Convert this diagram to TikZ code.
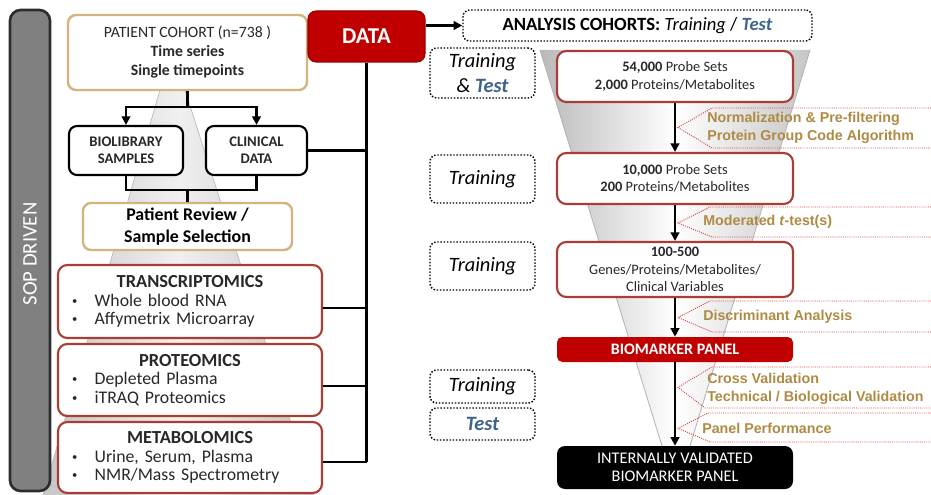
\documentclass[tikz,border=0pt]{standalone}
\usepackage{fontspec}
\setmainfont{Carlito}
\newfontfamily\arialf{Liberation Sans}
\usetikzlibrary{arrows.meta,calc}
\definecolor{tanc}{RGB}{212,180,126}
\definecolor{redb}{RGB}{170,62,52}
\definecolor{datared}{RGB}{192,0,0}
\definecolor{goldc}{RGB}{175,138,68}
\definecolor{testblue}{RGB}{62,100,138}
\definecolor{calred}{RGB}{220,60,60}
\definecolor{txt}{RGB}{40,40,40}
\definecolor{sopgray}{RGB}{128,128,128}
\newcommand{\bul}{\makebox[17pt][l]{\raisebox{1.5pt}{\fontsize{8}{8}\selectfont\textbullet}}}
\tikzset{
 conn/.style={line width=1.9pt, draw=black},
 arr/.style={conn, -{Triangle[length=6.5pt,width=6.5pt]}},
 tanbox/.style={draw=tanc, line width=1.8pt, rounded corners=6pt, fill=white, align=center, text=txt, inner sep=0pt},
 blkbox/.style={draw=black, line width=1.6pt, rounded corners=6pt, fill=white, align=center, text=txt, inner sep=0pt},
 redbox/.style={draw=redb, line width=1.6pt, rounded corners=7pt, fill=white, text=txt, inner sep=0pt},
 dotbox/.style={draw=black, line width=1.1pt, dash pattern=on 1.1pt off 1.3pt, rounded corners=5pt, align=center, inner sep=0pt},
 callout/.style={draw=calred, line width=0.7pt, dash pattern=on 0.7pt off 0.9pt},
 goldtxt/.style={text=goldc, font=\arialf\bfseries\fontsize{10.7}{13.3}\selectfont, anchor=west, align=left, inner sep=0pt},
 trainlbl/.style={font=\itshape\fontsize{15.3}{19}\selectfont},
}
\begin{document}
\begin{tikzpicture}[x=0.75pt,y=-0.75pt]
\useasboundingbox (0,0) rectangle (931,495);

% funnels
\shade[left color=gray!45, right color=gray!45, middle color=gray!12]
  (160,90) -- (185,90) -- (314,495) -- (43,495) -- cycle;
\draw[gray!55, line width=0.5pt] (160,90) -- (43,495) (185,90) -- (314,495);
\shade[left color=gray!55, right color=gray!45, middle color=white]
  (540,50) -- (810,50) -- (690,446) -- (662,446) -- cycle;
\draw[gray!60, line width=0.6pt] (540,50) -- (662,446) (810,50) -- (690,446);

% SOP bar
\node[draw={rgb,255:red,45;green,45;blue,45}, line width=2pt, fill=sopgray, rounded corners=8pt,
  minimum width=30pt, minimum height=360.75pt, inner sep=0pt] (sop) at (30,250.5) {};
\node[rotate=90, text=white, font=\fontsize{15.5}{17}\selectfont] (soptxt) at (30,254) {SOP DRIVEN};

% left column
\node[tanbox, minimum width=179.25pt, minimum height=56.25pt, font=\fontsize{11.8}{14.2}\selectfont] (cohort) at (187.5,52.5)
  {PATIENT COHORT (n=738 )\\\textbf{Time series}\\\textbf{Single timepoints}};
\node[blkbox, minimum width=85.5pt, minimum height=36.75pt, font=\bfseries\fontsize{11}{13}\selectfont] (bio) at (126,150.5)
  {BIOLIBRARY\\SAMPLES};
\node[blkbox, minimum width=75.75pt, minimum height=36.75pt, font=\bfseries\fontsize{11}{13}\selectfont] (clin) at (256.5,150.5)
  {CLINICAL\\DATA};
\node[tanbox, text=black, minimum width=156.75pt, minimum height=35.25pt, font=\bfseries\fontsize{13.4}{16}\selectfont] (review) at (187.5,226.5)
  {Patient Review /\\Sample Selection};

\node[redbox, minimum height=54.75pt, text width=177pt, inner xsep=10.5pt, align=left, font=\fontsize{13.3}{13.8}\selectfont] (trans) at (190,301.5)
  {\makebox[\linewidth]{\bfseries\fontsize{13.8}{13.8}\selectfont TRANSCRIPTOMICS}\\
   \bul Whole blood RNA\\
   \bul Affymetrix Microarray};
\node[redbox, minimum height=54pt, text width=177pt, inner xsep=10.5pt, align=left, font=\fontsize{13.3}{13.8}\selectfont] (prot) at (190,380)
  {\makebox[\linewidth]{\bfseries\fontsize{13.8}{13.8}\selectfont PROTEOMICS}\\
   \bul Depleted Plasma\\
   \bul iTRAQ Proteomics};
\node[redbox, minimum height=53.25pt, text width=177pt, inner xsep=10.5pt, align=left, font=\fontsize{13.3}{13.8}\selectfont] (metab) at (190,457.5)
  {\makebox[\linewidth]{\bfseries\fontsize{13.8}{13.8}\selectfont METABOLOMICS}\\
   \bul Urine, Serum, Plasma\\
   \bul NMR/Mass Spectrometry};

% DATA
\node[fill=datared, draw={rgb,255:red,150;green,0;blue,0}, line width=0.8pt, rounded corners=6pt, minimum width=87.75pt, minimum height=38.25pt,
  inner sep=0pt, text=white, font=\bfseries\fontsize{17}{20}\selectfont] (data) at (366.5,36.5) {DATA};

% left connectors
\coordinate (split) at (187.5,107);
\coordinate (join) at (187.5,190);
\draw[conn] (cohort.south) -- (split);
\draw[arr] (split) -| (bio.north);
\draw[arr] (split) -| (clin.north);
\draw[conn] (bio.south) |- (join) -| (clin.south);
\draw[conn] (join) -- (review.north);

% data bus
\coordinate (busend) at ([yshift=-3.5pt]metab.east -| data.south);
\draw[conn] (data.south) -- (busend);
\draw[conn] (clin.east) -- (clin.east -| data.south);
\draw[conn] ([yshift=-5pt]trans.east) -- ([yshift=-5pt]trans.east -| data.south);
\draw[conn] ([yshift=-4.5pt]prot.east) -- ([yshift=-4.5pt]prot.east -| data.south);
\draw[conn] ([yshift=-3.5pt]metab.east) -- (busend);

% analysis cohorts
\node[dotbox, minimum width=261.75pt, minimum height=23.25pt, font=\fontsize{14}{16}\selectfont] (analysis) at (637.5,25.5)
  {\textbf{ANALYSIS COHORTS:} \textit{Training} / \textcolor{testblue}{\textbf{\textit{Test}}}};
\draw[arr] (analysis.west -| data.east) -- (analysis.west);

% training labels
\node[dotbox, trainlbl, minimum width=78.75pt, minimum height=37.5pt] (l1) at (482.5,73)
  {Training\\\& \textcolor{testblue}{\bfseries Test}};
\node[dotbox, trainlbl, minimum width=78.75pt, minimum height=36pt] (l2) at (482.5,179) {Training};
\node[dotbox, trainlbl, minimum width=78.75pt, minimum height=36pt] (l3) at (482.5,266) {Training};
\node[dotbox, trainlbl, minimum width=78.75pt, minimum height=24.75pt] (l4) at (482.5,386.5) {Training};
\node[dotbox, trainlbl, minimum width=78.75pt, minimum height=24pt, text=testblue] (l5) at (482.5,424) {\bfseries Test};

% right column
\node[redbox, align=center, minimum width=177pt, minimum height=38.25pt, font=\fontsize{10.8}{13}\selectfont] (b1) at (675,76.5)
  {\textbf{54,000} Probe Sets\\\textbf{2,000} Proteins/Metabolites};
\node[redbox, align=center, minimum width=177pt, minimum height=38.25pt, font=\fontsize{10.8}{13}\selectfont] (b2) at (675,178.5)
  {\textbf{10,000} Probe Sets\\\textbf{200} Proteins/Metabolites};
\node[redbox, align=center, minimum width=177pt, minimum height=41.25pt, font=\fontsize{10.8}{13}\selectfont] (b3) at (675,269.5)
  {\textbf{100-500}\\Genes/Proteins/Metabolites/\\Clinical Variables};
\node[fill=datared, rounded corners=4pt, minimum width=177pt, minimum height=18.75pt, inner sep=0pt,
  text=white, font=\bfseries\fontsize{12}{13}\selectfont] (bp) at (675,349.5) {BIOMARKER PANEL};
\node[fill=black, rounded corners=6pt, minimum width=177pt, minimum height=32.25pt, inner sep=0pt, align=center,
  text=white, font=\fontsize{12.2}{13.7}\selectfont] (fin) at (675,467.5) {INTERNALLY VALIDATED\\BIOMARKER PANEL};

\draw[arr] (b1.south) -- (b2.north);
\draw[arr] (b2.south) -- (b3.north);
\draw[arr] (b3.south) -- (bp.north);
\draw[arr] (bp.south) -- (fin.north);

% callouts
\coordinate (t1) at ($(b1.south)!0.5!(b2.north)+(3,0)$);
\coordinate (t2) at ($(b2.south)!0.5!(b3.north)+(3,0)$);
\coordinate (t3) at ($(b3.south)!0.5!(bp.north)+(3,0)$);
\coordinate (t4) at ($(bp.south)!0.3!(fin.north)+(3,0)$);
\coordinate (t5) at ($(bp.south)!0.79!(fin.north)+(3,0)$);
\draw[callout] (931,108) -- (712,108) -- (t1) -- (712,148) -- (931,148);
\draw[callout] (931,207) -- (710,207) -- (t2) -- (712,237) -- (931,237);
\draw[callout] (931,301) -- (710,301) -- (t3) -- (712,332) -- (931,332);
\draw[callout] (931,367) -- (712,367) -- (t4) -- (705,408) -- (931,408);
\draw[callout] (931,413) -- (708,413) -- (t5) -- (710,442) -- (931,442);

\node[goldtxt] (c1) at (707,128) {Normalization \& Pre-filtering\\Protein Group Code Algorithm};
\node[goldtxt] (c2) at (703,222) {Moderated \textit{t}-test(s)};
\node[goldtxt] (c3) at (703,317) {Discriminant Analysis};
\node[goldtxt] (c4) at (707,388.5) {Cross Validation\\Technical / Biological Validation};
\node[goldtxt] (c5) at (702,428) {Panel Performance};
\end{tikzpicture}
\end{document}
